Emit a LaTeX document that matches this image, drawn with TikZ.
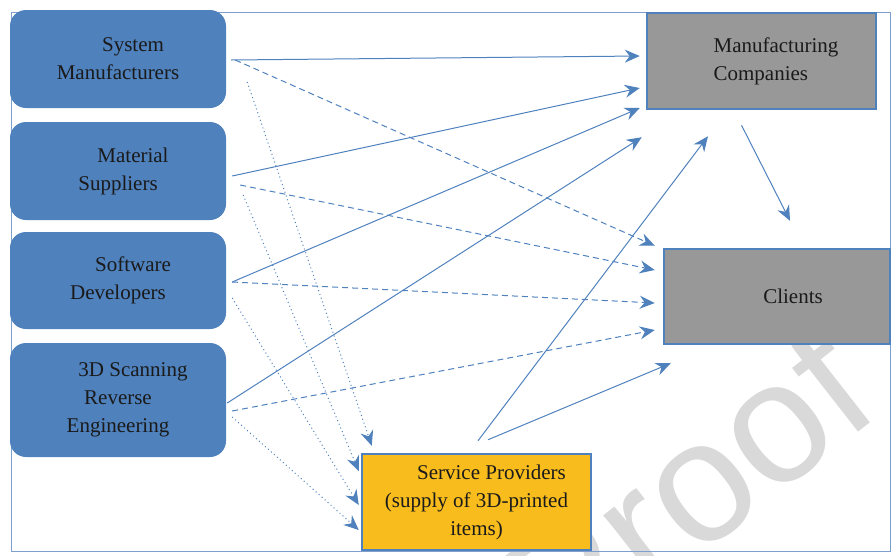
\documentclass[tikz,border=0pt]{standalone}
\usepackage{fontspec}
\setmainfont{Liberation Serif}
\newfontfamily\wmfont{Liberation Sans}
\usetikzlibrary{positioning,arrows.meta,calc}
\definecolor{boxblue}{HTML}{4F81BD}
\definecolor{boxgray}{HTML}{989898}
\definecolor{spgold}{HTML}{F8BC1D}
\definecolor{framecol}{HTML}{7F9FCF}
\definecolor{inktext}{HTML}{1A1A1A}
\tikzset{
  actor/.style={fill=boxblue, rounded corners=16pt, minimum width=216pt, align=center, text=inktext},
  target/.style={draw=boxblue, line width=2.5pt, fill=boxgray, minimum width=229pt, minimum height=96pt, text=inktext},
  provider/.style={target, fill=spgold, align=center},
  link/.style={draw=boxblue, line width=1pt, -{Stealth[length=15pt,width=13pt,inset=5pt]}},
  dashlink/.style={link, dash pattern=on 6pt off 4pt},
  dotlink/.style={link, dash pattern=on 1pt off 3pt}
}

\begin{document}
\begin{tikzpicture}[x=1pt, y=-1pt, font=\fontsize{21pt}{28pt}\selectfont]
  \useasboundingbox (0,0) rectangle (892,555);
  \begin{scope}
    \clip (0,0) rectangle (892,555);
    \node[rotate=38, text=black!15, font=\wmfont\fontsize{172pt}{172pt}\selectfont] (watermark) at (684,490) {Proof};
  \end{scope}
  \draw[framecol, line width=1pt] (11,12) rectangle (890,551);

  \node[actor, minimum height=98pt] (sysman) at (118,59) {\hspace*{30pt}System\\Manufacturers};
  \node[actor, minimum height=98pt] (material) at (118,171) {\hspace*{30pt}Material\\Suppliers};
  \node[actor, minimum height=97pt] (software) at (118,280.5) {\hspace*{30pt}Software\\Developers};
  \node[actor, minimum height=114pt] (scan) at (118,400) {\hspace*{30pt}3D Scanning\\Reverse\\Engineering};

  \node[target, align=left] (mfg) at (761.5,61) {\hspace*{29pt}Manufacturing\\\hspace*{29pt}Companies};
  \node[target, minimum width=226pt, minimum height=95pt] (clients) at (777,296.5) {\hspace*{32pt}Clients};
  \node[provider] (sp) at (476.5,502) {\hspace*{30pt}Service Providers\\(supply of 3D-printed\\items)};

  % solid: into manufacturing companies
  \draw[link] ($(sysman.east)+(5,1)$) -- ($(mfg.west)+(-6,-5)$);
  \draw[link] ($(material.east)+(6,5)$) -- ($(mfg.west)+(-6,27)$);
  \draw[link] ($(software.east)+(6,1.5)$) -- ($(mfg.west)+(-6,47)$);
  \draw[link] ($(scan.east)+(1,3)$) -- ($(mfg.south west)+(-4,27)$);
  \draw[link] ($(sp.north)+(1.5,-12)$) -- ($(mfg.south)+(-53.5,26)$);
  \draw[link] ($(sp.north)+(11.5,-13)$) -- ($(clients.south west)+(8,18)$);
  \draw[link] ($(mfg.south)+(-20,15)$) -- ($(clients.north)+(13,-27)$);

  % dashed: into clients
  \draw[dashlink] ($(sysman.east)+(9,1)$) -- ($(clients.north west)+(-8,-2)$);
  \draw[dashlink] ($(material.east)+(14,14)$) -- ($(clients.west)+(-8,-26.5)$);
  \draw[dashlink] ($(software.east)+(6,1.5)$) -- ($(clients.west)+(-8,6.5)$);
  \draw[dashlink] ($(scan.east)+(6,11)$) -- ($(clients.west)+(-8,33.5)$);

  % dotted: into service providers
  \draw[dotlink] ($(sysman.east)+(21,23)$) -- ($(sp.north west)+(11,-7)$);
  \draw[dotlink] ($(material.east)+(17,24)$) -- ($(sp.west)+(-2,-31)$);
  \draw[dotlink] ($(software.east)+(6,17.5)$) -- ($(sp.west)+(-2,3)$);
  \draw[dotlink] ($(scan.east)+(6,17)$) -- ($(sp.west)+(-2,28)$);
\end{tikzpicture}
\end{document}
